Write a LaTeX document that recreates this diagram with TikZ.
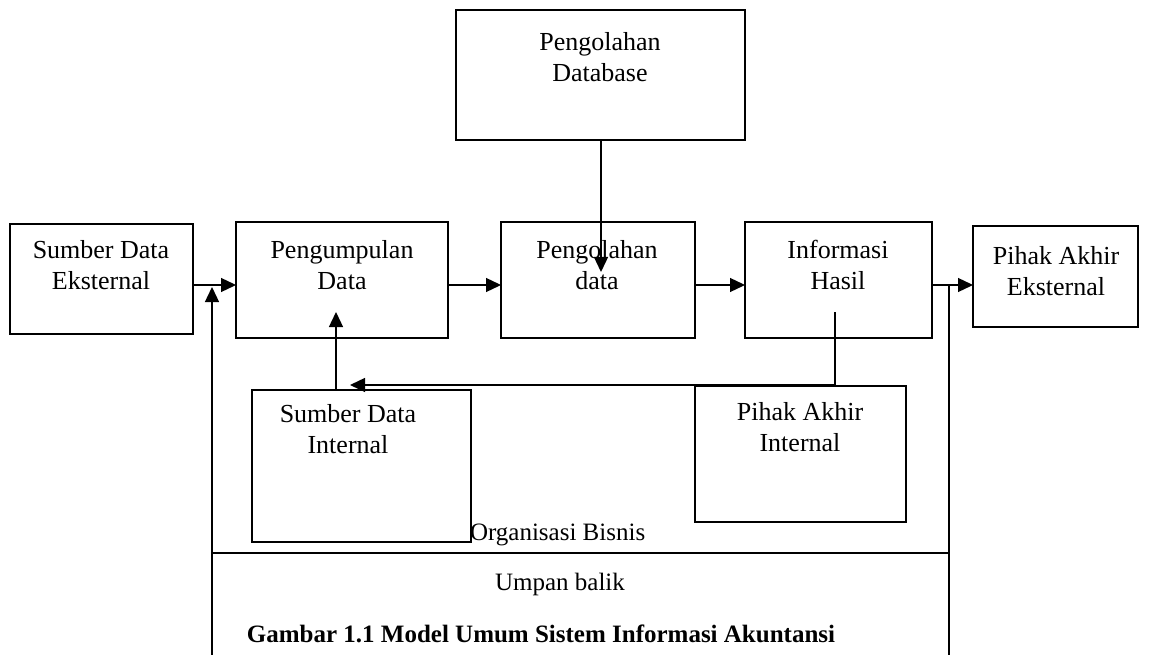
\documentclass[tikz,border=0pt]{standalone}
\usepackage{fontspec}
\setmainfont{Liberation Serif}
\usetikzlibrary{arrows.meta,calc}
\begin{document}
\begin{tikzpicture}[x=1pt,y=-1pt,line width=1.3pt,
  box/.style={draw,inner sep=0pt,outer sep=0pt},
  txt/.style={inner sep=0pt,outer sep=0pt,align=center,anchor=north,font=\fontsize{26}{31}\selectfont},
  lbl/.style={inner sep=0pt,outer sep=0pt,font=\fontsize{25}{30}\selectfont},
  arr/.style={-{Triangle[length=15pt,width=14pt]}}]
\useasboundingbox (0,0) rectangle (1149,655);
\fill[white] (0,0) rectangle (1149,655);
% boxes
\node[box,minimum width=289pt,minimum height=130pt] (db)  at (600.5,75) {};
\node[box,minimum width=183pt,minimum height=110pt] (ext) at (101.5,279) {};
\node[box,minimum width=212pt,minimum height=116pt] (pg)  at (342,280) {};
\node[box,minimum width=194pt,minimum height=116pt] (pd)  at (598,280) {};
\node[box,minimum width=187pt,minimum height=116pt] (ih)  at (838.5,280) {};
\node[box,minimum width=165pt,minimum height=101pt] (pae) at (1055.5,276.5) {};
\node[box,minimum width=219pt,minimum height=152pt] (sdi) at (361.5,466) {};
\node[box,minimum width=211pt,minimum height=136pt] (pai) at (800.5,454) {};
% box texts
\node[txt] (tdb)  at (600,32)  {Pengolahan\\Database};
\node[txt] (text) at (101,240) {Sumber Data\\Eksternal};
\node[txt] (tpg)  at (342,240) {Pengumpulan\\Data};
\node[txt] (tpd)  at (597,240) {Pengolahan\\data};
\node[txt] (tih)  at (838,240) {Informasi\\Hasil};
\node[txt] (tpae) at (1056,246) {Pihak Akhir\\Eksternal};
\node[txt] (tsdi) at (348,404) {Sumber Data\\Internal};
\node[txt] (tpai) at (800,402) {Pihak Akhir\\Internal};
% other labels
\node[lbl,anchor=base west] (org) at (470,540) {Organisasi Bisnis};
\node[lbl,anchor=base] (umpan) at (560,590) {Umpan balik};
\node[lbl,anchor=base,font=\fontsize{25}{30}\selectfont\bfseries] (cap) at (541,642) {Gambar 1.1 Model Umum Sistem Informasi Akuntansi};
% coordinates
\coordinate (ay) at (0,285);
\coordinate (bl) at (212,655);
\coordinate (br) at (949,655);
\coordinate (fb) at (0,553);
\coordinate (dbx) at (601,0);
\coordinate (dbt) at (601,272);
\coordinate (sx) at (336,0);
\coordinate (st) at (336,312);
\coordinate (ix) at (835,312);
\coordinate (fl) at (835,385);
\coordinate (ft) at (350,385);
% connectors
\draw[arr] (ext.east |- ay) -- (pg.west |- ay);
\draw[arr] (pg.east |- ay) -- (pd.west |- ay);
\draw[arr] (pd.east |- ay) -- (ih.west |- ay);
\draw[arr] (ih.east |- ay) -- (pae.west |- ay);
\draw[arr] (bl) -- ($(bl |- ay)+(0,2)$);
\draw (br) -- (br |- ay);
\draw (bl |- fb) -- (br |- fb);
\draw[arr] (db.south -| dbx) -- (dbt);
\draw[arr] (sdi.north -| sx) -- (st);
\draw (ix) -- (pai.north -| ix);
\draw[arr] (fl) -- (ft);
\end{tikzpicture}
\end{document}
